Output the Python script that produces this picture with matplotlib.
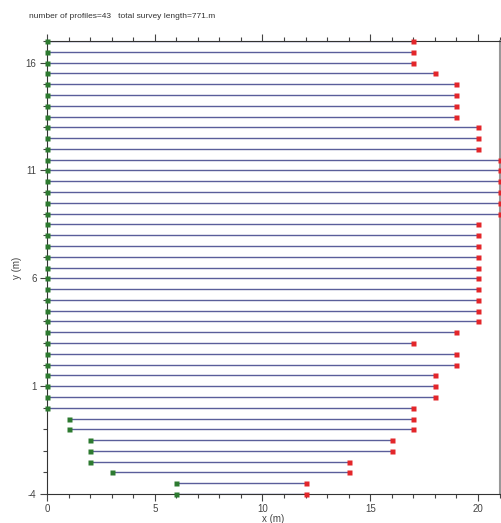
import matplotlib.pyplot as plt
import numpy as np

plt.rcParams["font.family"] = "Liberation Sans"
plt.rcParams["axes.unicode_minus"] = False

# profile positions (y, m) and start / end along x (m), top to bottom
ys = np.arange(17.0, -4.01, -0.5)
x_start = [0] * 35 + [1, 1, 2, 2, 2, 3, 6, 6]
x_end = [17, 17, 17, 18, 19, 19, 19, 19, 20, 20, 20,
         21, 21, 21, 21, 21, 21,
         20, 20, 20, 20, 20, 20, 20, 20, 20, 20,
         19, 17, 19, 19, 18, 18, 18, 17,
         17, 17, 16, 16, 14, 14, 12, 12]

xticks = [0, 5, 10, 15, 20]
yticks = [-4, 1, 6, 11, 16]

total = sum(e - s for s, e in zip(x_start, x_end))

fig = plt.figure(figsize=(5.01, 5.23), dpi=100)
ax = fig.add_axes([47 / 501, 29 / 523, 452.5 / 501, 453 / 523])

for y, s, e in zip(ys, x_start, x_end):
    ax.plot([s, e], [y, y], color="#5a5e9a", lw=1.0, zorder=2)
    ax.plot(s, y, "s", color="#2d7a30", ms=3.6, mec="none", zorder=3, clip_on=False)
    ax.plot(e, y, "s", color="#e3262a", ms=3.6, mec="none", zorder=3, clip_on=False)

ax.set_xlim(0, 21)
ax.set_ylim(-4, 17)
ax.set_xticks(xticks)
ax.set_xticks(np.arange(0, 22), minor=True)
ax.set_yticks(yticks)
ax.set_yticks(np.arange(-4, 18), minor=True)
ax.tick_params(which="both", direction="out", top=True, right=True,
               labelsize=7, colors="#444444", width=0.8, pad=2.5)
ax.tick_params(which="major", length=5)
ax.tick_params(which="minor", length=3)
for side in ["left", "bottom", "top"]:
    ax.spines[side].set_color("#333333")
ax.spines["right"].set_color("#999999")
ax.spines["right"].set_linewidth(1.5)

ax.set_xlabel("x (m)", fontsize=7, labelpad=0, color="#444444")
ax.set_ylabel("y (m)", fontsize=7, labelpad=3, color="#444444")

fig.text(29 / 501, 1 - 17 / 523,
         "number of profiles=%d   total survey length=%d.m" % (len(ys), total),
         fontsize=6, va="center", ha="left", color="#333333")

fig.savefig("out.png", dpi=100)
